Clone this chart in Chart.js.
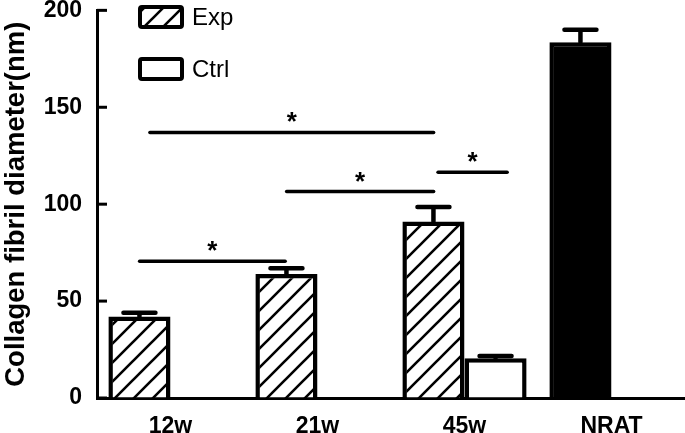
<!DOCTYPE html>
<html>
<head>
<meta charset="utf-8">
<script src="https://cdn.jsdelivr.net/npm/chart.js@4/dist/chart.umd.min.js"></script>
<style>
  html, body { margin: 0; padding: 0; background: #fff; }
  #wrap { width: 685px; height: 433px; }
</style>
</head>
<body>
<div id="wrap"><canvas id="c" width="685" height="433"></canvas></div>
<script>
// ---- data ----
const categories = ['12w', '21w', '45w', 'NRAT'];
const expValues  = [42, 64, 91, 183.5];
const expErrors  = [2, 3, 7.5, 6.5];
const ctrlValues = [null, null, 20.5, null];
const ctrlErrors = [null, null, 1.2, null];
const seriesNames = ['Exp', 'Ctrl'];
const yMin = 0, yMax = 200, yStep = 50;
const yTitle = 'Collagen fibril diameter(nm)';
// significance brackets (in category-index units) and their heights
const sigFrom  = [-0.21, 0.79, -0.14, 1.82];
const sigTo    = [0.78, 1.79, 1.79, 2.29];
const sigLevel = [70.5, 106.5, 137, 116.5];
const sigText  = ['*', '*', '*', '*'];

const FONT = '"Liberation Sans", Arial, sans-serif';
const ctxMain = document.getElementById('c').getContext('2d');

// ---- hatch pattern ----
const hatch = ctxMain.createPattern((function(){
  const s = 19;
  const c = document.createElement('canvas');
  c.width = s; c.height = s;
  const g = c.getContext('2d');
  g.fillStyle = '#fff'; g.fillRect(0, 0, s, s);
  g.strokeStyle = '#000'; g.lineWidth = 2.6;
  g.beginPath();
  g.moveTo(0, s); g.lineTo(s, 0);
  g.moveTo(-3, 3); g.lineTo(3, -3);
  g.moveTo(s - 3, s + 3); g.lineTo(s + 3, s - 3);
  g.stroke();
  return c;
})(), 'repeat');

const expColors = categories.map((c, i) => i === categories.length - 1 ? '#000' : hatch);

// ---- plugins ----
const extras = {
  id: 'extras',
  afterDatasetsDraw(chart) {
    const ctx = chart.ctx;
    const y = chart.scales.y;
    const errs = [expErrors, ctrlErrors];
    const vals = [expValues, ctrlValues];
    ctx.save();
    ctx.strokeStyle = '#000';
    ctx.lineWidth = 4.5;
    ctx.lineCap = 'round';
    chart.data.datasets.forEach((ds, di) => {
      const meta = chart.getDatasetMeta(di);
      meta.data.forEach((bar, i) => {
        const v = vals[di][i], e = errs[di][i];
        if (v == null || e == null) return;
        const top = y.getPixelForValue(v + e);
        ctx.beginPath();
        ctx.moveTo(bar.x, bar.y);
        ctx.lineTo(bar.x, top);
        ctx.moveTo(bar.x - 16, top);
        ctx.lineTo(bar.x + 16, top);
        ctx.stroke();
      });
    });
    ctx.restore();
  },
  afterDraw(chart) {
    const ctx = chart.ctx;
    const xs = chart.scales.x, ys = chart.scales.y;
    const area = chart.chartArea;
    ctx.save();
    // inward y ticks
    ctx.strokeStyle = '#000';
    ctx.lineWidth = 3;
    ys.ticks.forEach(t => {
      const py = ys.getPixelForValue(t.value);
      ctx.beginPath();
      ctx.moveTo(area.left, py);
      ctx.lineTo(area.left + 10, py);
      ctx.stroke();
    });
    // significance lines
    ctx.lineWidth = 3.5;
    ctx.lineCap = 'round';
    ctx.fillStyle = '#000';
    ctx.font = 'bold 26px ' + FONT;
    ctx.textAlign = 'center';
    ctx.textBaseline = 'alphabetic';
    sigFrom.forEach((f, i) => {
      const x1 = xs.getPixelForValue(f), x2 = xs.getPixelForValue(sigTo[i]);
      const py = ys.getPixelForValue(sigLevel[i]);
      ctx.beginPath();
      ctx.moveTo(x1, py); ctx.lineTo(x2, py);
      ctx.stroke();
      ctx.fillText(sigText[i], (x1 + x2) / 2, py - 2);
    });
    // legend
    const fills = [hatch, '#fff'];
    const boxY = [7, 59];
    ctx.lineWidth = 4;
    ctx.font = '24px ' + FONT;
    ctx.textAlign = 'left';
    ctx.textBaseline = 'middle';
    seriesNames.forEach((n, i) => {
      ctx.beginPath();
      ctx.roundRect(140, boxY[i], 42, 20, 2);
      ctx.fillStyle = fills[i];
      ctx.fill();
      ctx.stroke();
      ctx.fillStyle = '#000';
      ctx.fillText(n, 192, boxY[i] + 11);
    });
    ctx.restore();
  }
};

new Chart(ctxMain, {
  type: 'bar',
  data: {
    labels: categories,
    datasets: [
      { label: seriesNames[0], data: expValues, backgroundColor: expColors,
        borderColor: '#000', borderWidth: 4.5, borderSkipped: 'bottom' },
      { label: seriesNames[1], data: ctrlValues, backgroundColor: '#fff',
        borderColor: '#000', borderWidth: 4.5, borderSkipped: 'bottom' }
    ]
  },
  options: {
    responsive: false,
    animation: false,
    devicePixelRatio: 1,
    categoryPercentage: 0.845,
    barPercentage: 1.0,
    layout: { padding: { top: 10, right: 0, left: 0, bottom: 0 } },
    plugins: { legend: { display: false }, tooltip: { enabled: false } },
    scales: {
      x: {
        z: 1,
        grid: { display: false, drawTicks: false },
        border: { display: true, color: '#000', width: 3 },
        ticks: { color: '#000', padding: 15, maxRotation: 0,
                 font: { family: FONT, size: 23, weight: 'bold' } },
        afterFit(s) { s.height = 35; }
      },
      y: {
        z: 1,
        min: yMin, max: yMax,
        grid: { drawOnChartArea: false, drawTicks: true, tickLength: 15, tickColor: 'rgba(0,0,0,0)' },
        border: { display: true, color: '#000', width: 3 },
        ticks: { stepSize: yStep, color: '#000', padding: 0,
                 font: { family: FONT, size: 23, weight: 'bold', lineHeight: 0.9 } },
        title: { display: true, text: yTitle, color: '#000', padding: { top: 0, bottom: 0 },
                 font: { family: FONT, size: 27.5, weight: 'bold' } },
        afterFit(s) { s.width = 97; }
      }
    }
  },
  plugins: [extras]
});
</script>
</body>
</html>
